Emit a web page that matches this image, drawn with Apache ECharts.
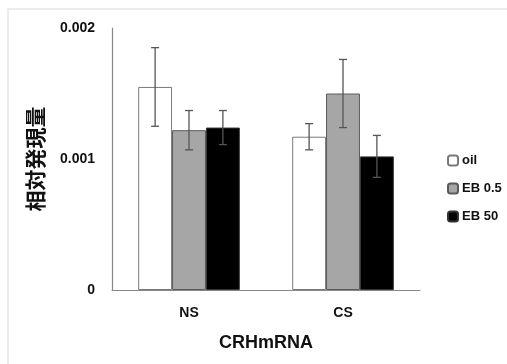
<!DOCTYPE html>
<html>
<head>
<meta charset="utf-8">
<script src="https://cdn.jsdelivr.net/npm/echarts@6/dist/echarts.min.js"></script>
<style>
html, body { margin: 0; padding: 0; background: #fff; }
#main { width: 507px; height: 364px; }
</style>
</head>
<body>
<div id="main"></div>
<script>
// data
var categories = ['NS', 'CS'];
var seriesNames = ['oil', 'EB 0.5', 'EB 50'];
var oilValues = [0.00155, 0.00117];
var eb05Values = [0.00122, 0.00150];
var eb50Values = [0.00124, 0.00102];
var oilErrors = [0.00030, 0.00010];
var eb05Errors = [0.00015, 0.00026];
var eb50Errors = [0.00013, 0.00016];
var yTicks = [0, 0.001, 0.002];

var fillColors = ['#ffffff', '#a6a6a6', '#000000'];
var borderColors = ['#7a7a7a', '#5a5a5a', '#333333'];
var allValues = [oilValues, eb05Values, eb50Values];
var allErrors = [oilErrors, eb05Errors, eb50Errors];
var barCatGap = 0.34;

var chart = echarts.init(document.getElementById('main'));
var font = '"Liberation Sans", Arial, sans-serif';

var series = [];
allValues.forEach(function (vals, i) {
  series.push({
    name: seriesNames[i],
    type: 'bar',
    data: vals,
    barGap: '0%',
    barCategoryGap: '34%',
    itemStyle: { color: fillColors[i], borderColor: borderColors[i], borderWidth: 1 }
  });
});
// error bars, one custom series per group, offset like the bars
allValues.forEach(function (vals, i) {
  series.push({
    type: 'custom',
    silent: true,
    z: 5,
    data: vals.map(function (v, j) { return [j, v - allErrors[i][j], v + allErrors[i][j]]; }),
    renderItem: function (params, api) {
      var lo = api.coord([api.value(0), api.value(1)]);
      var hi = api.coord([api.value(0), api.value(2)]);
      var band = api.size([1, 0])[0];
      var bw = band * (1 - barCatGap) / 3;
      var x = lo[0] + (i - 1) * bw;
      var cap = 4;
      var st = { stroke: '#555555', lineWidth: 1.3 };
      return {
        type: 'group',
        children: [
          { type: 'line', shape: { x1: x, y1: lo[1], x2: x, y2: hi[1] }, style: st },
          { type: 'line', shape: { x1: x - cap, y1: lo[1], x2: x + cap, y2: lo[1] }, style: st },
          { type: 'line', shape: { x1: x - cap, y1: hi[1], x2: x + cap, y2: hi[1] }, style: st }
        ]
      };
    }
  });
});

var option = {
  backgroundColor: '#ffffff',
  animation: false,
  graphic: [{
    type: 'rect',
    shape: { x: 8, y: 9, width: 520, height: 380 },
    style: { fill: 'none', stroke: '#e6e6e6', lineWidth: 1.5 },
    silent: true
  }],
  grid: { left: 112, right: 87, top: 28, bottom: 74 },
  legend: {
    data: seriesNames,
    orient: 'vertical',
    left: 442,
    top: 149,
    itemWidth: 10,
    itemHeight: 10,
    itemGap: 15,
    textStyle: { fontFamily: font, fontWeight: 'bold', fontSize: 13, color: '#111', padding: [0, 0, 0, -1] }
  },
  xAxis: {
    type: 'category',
    data: categories,
    name: 'CRHmRNA',
    nameLocation: 'middle',
    nameGap: 44,
    nameTextStyle: { fontFamily: font, fontWeight: 'bold', fontSize: 18, color: '#111' },
    axisLine: { lineStyle: { color: '#888', width: 1.2 } },
    axisTick: { show: false },
    axisLabel: { margin: 16, fontFamily: font, fontWeight: 'bold', fontSize: 14, color: '#111' }
  },
  yAxis: {
    type: 'value',
    min: 0,
    max: 0.002,
    interval: 0.001,
    name: '相対発現量',
    nameLocation: 'middle',
    nameRotate: 90,
    nameGap: 66,
    nameTextStyle: { fontFamily: '"Noto Sans CJK JP", sans-serif', fontWeight: 'bold', fontSize: 21, color: '#111' },
    axisLine: { show: true, lineStyle: { color: '#888', width: 1.2 } },
    axisTick: { show: false },
    splitLine: { show: false },
    axisLabel: {
      margin: 17,
      fontFamily: font, fontWeight: 'bold', fontSize: 14, color: '#111',
      formatter: function (v) {
        var k = yTicks.indexOf(v);
        return k === 0 ? '0' : (k > 0 ? v.toFixed(3) : '');
      }
    }
  },
  series: series
};
chart.setOption(option);
</script>
</body>
</html>
